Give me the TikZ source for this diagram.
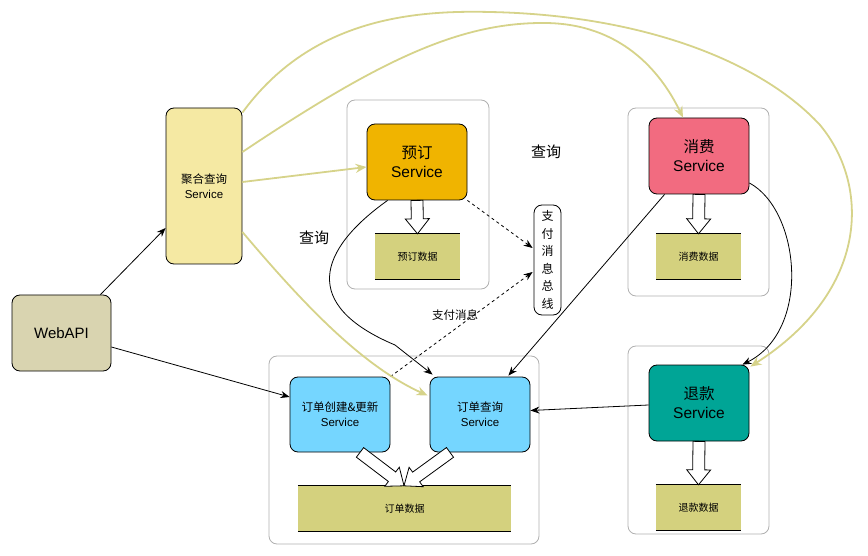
\documentclass[tikz,border=0pt]{standalone}
\usepackage{fontspec}
\setmainfont{Liberation Sans}
\newfontfamily\cjk{Noto Sans CJK SC}
\usetikzlibrary{calc,arrows.meta}
\definecolor{ylw}{HTML}{D6D38A}
\definecolor{aggfill}{HTML}{F5E9A3}
\definecolor{datafill}{HTML}{D4D17E}
\definecolor{webfill}{HTML}{D9D4B0}
\definecolor{ydfill}{HTML}{F0B400}
\definecolor{xffill}{HTML}{F26B80}
\definecolor{tkfill}{HTML}{00A596}
\definecolor{ordfill}{HTML}{75D6FF}
\definecolor{boxgray}{HTML}{B0B0B0}
\tikzset{
  container/.style={draw=boxgray,line width=0.8pt,rounded corners=8pt,minimum width=#1},
  svc/.style={draw=black,line width=0.8pt,rounded corners=8pt,minimum width=100pt,minimum height=76pt,align=center,inner sep=2pt},
  datab/.style={fill=datafill,minimum height=45pt,inner sep=0pt,font=\cjk\fontsize{10}{12}\selectfont},
  arr/.style={draw=black,line width=0.8pt,-{Stealth[length=9pt,width=7pt]}},
  yarr/.style={draw=ylw,line width=1.8pt,-{Stealth[length=11pt,width=9pt]}},
  dasharr/.style={draw=black,line width=0.8pt,dashed,-{Stealth[length=9pt,width=7pt]}},
  lbl/.style={font=\cjk\fontsize{15}{18}\selectfont,inner sep=0pt},
}
\newcommand\hollowarrow[2]{%
  \coordinate (ha) at (#1); \coordinate (hb) at (#2);
  \coordinate (hh) at ($(hb)!15pt!(ha)$);
  \draw[fill=white,line width=0.8pt] ($(ha)!6pt!90:(hb)$) -- ($(hh)!6pt!-90:(ha)$) -- ($(hh)!12pt!-90:(ha)$) -- (hb) -- ($(hh)!12pt!90:(ha)$) -- ($(hh)!6pt!90:(ha)$) -- ($(ha)!6pt!-90:(hb)$) -- cycle;}
\begin{document}
\begin{tikzpicture}[x=1pt,y=-1pt]
\useasboundingbox (0,0) rectangle (868,556);
% containers
\node[container=142pt,minimum height=189pt] (c1) at (418,194.5) {};
\node[container=141pt,minimum height=188pt] (c3) at (698.5,202) {};
\node[container=141pt,minimum height=188pt] (c4) at (698.5,440) {};
\node[container=270pt,minimum height=188pt] (c2) at (404,450) {};
% main nodes
\node[svc,fill=webfill,minimum width=99pt,font=\fontsize{15}{18}\selectfont] (web) at (61.5,333) {WebAPI};
\node[svc,fill=aggfill,minimum width=76pt,minimum height=156pt,font=\fontsize{11.5}{15}\selectfont] (agg) at (204,186) {{\cjk 聚合查询}\\Service};
\node[svc,fill=ydfill,font=\fontsize{15.5}{19}\selectfont] (yd) at (417,162) {{\cjk 预订}\\Service};
\node[svc,fill=xffill,font=\fontsize{15.5}{19}\selectfont] (xf) at (699,156) {{\cjk 消费}\\Service};
\node[svc,fill=tkfill,font=\fontsize{15.5}{19}\selectfont] (tk) at (699,403) {{\cjk 退款}\\Service};
\node[svc,fill=ordfill,minimum height=75pt,font=\fontsize{11.5}{15}\selectfont] (oc) at (340,414.5) {{\cjk 订单创建\&更新}\\Service};
\node[svc,fill=ordfill,minimum height=75pt,font=\fontsize{11.5}{15}\selectfont] (oq) at (480,414.5) {{\cjk 订单查询}\\Service};
\node[draw=black,line width=0.8pt,fill=white,rounded corners=8pt,minimum width=27pt,minimum height=110pt,inner sep=0pt,align=center,font=\cjk\fontsize{12}{17.5}\selectfont] (bus) at (547.5,260) {支\\付\\消\\息\\总\\线};
% data boxes
\node[datab,minimum width=85pt] (ydd) at (417.5,256.5) {预订数据};
\node[datab,minimum width=85pt] (xfd) at (698.5,256.5) {消费数据};
\node[datab,minimum width=85pt] (tkd) at (698.5,507.5) {退款数据};
\node[datab,minimum width=213pt] (od) at (404.5,508.5) {订单数据};
\foreach \d in {ydd,xfd,tkd,od}{
  \draw[line width=0.8pt] (\d.north west) -- (\d.north east);
  \draw[line width=0.8pt] (\d.south west) -- (\d.south east);
}
% hollow arrows
\hollowarrow{yd.south}{ydd.north}
\hollowarrow{xf.south}{xfd.north}
\hollowarrow{tk.south}{tkd.north}
\hollowarrow{$(oc.south)+(20,0)$}{$(od.north)+(-0.5,0)$}
\hollowarrow{$(oq.south)+(-30,0)$}{$(od.north)+(-0.5,0)$}
% labels
\node[lbl] (q1) at (314,238) {查询};
\node[lbl] (q2) at (546,152) {查询};
\node[lbl,font=\cjk\fontsize{11.5}{14}\selectfont] (pm) at (455,315) {支付消息};
% black connectors
\draw[arr] ($(web.north east)+(-11,0)$) -- ($(agg.west)+(0,42)$);
\draw[arr] ($(web.east)+(0,14)$) -- ($(oc.west)+(0,-17.5)$);
\draw[arr] ($(tk.west)+(0,2)$) -- ($(oq.east)+(0,-4)$);
\draw[arr] ($(xf.south west)+(16,0)$) -- ($(oq.north east)+(-22,-1)$);
\draw[arr] ($(xf.east)+(0,27)$) .. controls (800,210) and (812,330) .. ($(tk.north east)+(-7,0)$);
\draw[arr] ($(yd.south west)+(21,0)$) .. controls (318,250) and (300,305) .. (395,345) -- ($(oq.north west)+(3,-2)$);
\draw[dasharr] (yd.south east) -- ($(bus.west)+(-1,-12)$);
\draw[dasharr] (oc.north east) -- ($(bus.west)+(-1,12)$);
% yellow connectors
\draw[yarr] ($(agg.east)+(0,-4)$) -- ($(yd.west)+(0,5)$);
\draw[yarr] ($(agg.east)+(0,46)$) .. controls (300,300) and (360,365) .. ($(oq.west)+(-2,-19)$);
\draw[yarr] ($(agg.east)+(0,-34)$) .. controls (380,60) and (460,22) .. (546,23) .. controls (620,24) and (660,70) .. ($(xf.north)+(-16,0)$);
\draw[yarr] ($(agg.north east)+(0,5)$) .. controls (310,20) and (410,10) .. (490,12) .. controls (640,15) and (760,60) .. (820,125) .. controls (870,185) and (870,290) .. ($(tk.north east)+(1,2)$);
\end{tikzpicture}
\end{document}
